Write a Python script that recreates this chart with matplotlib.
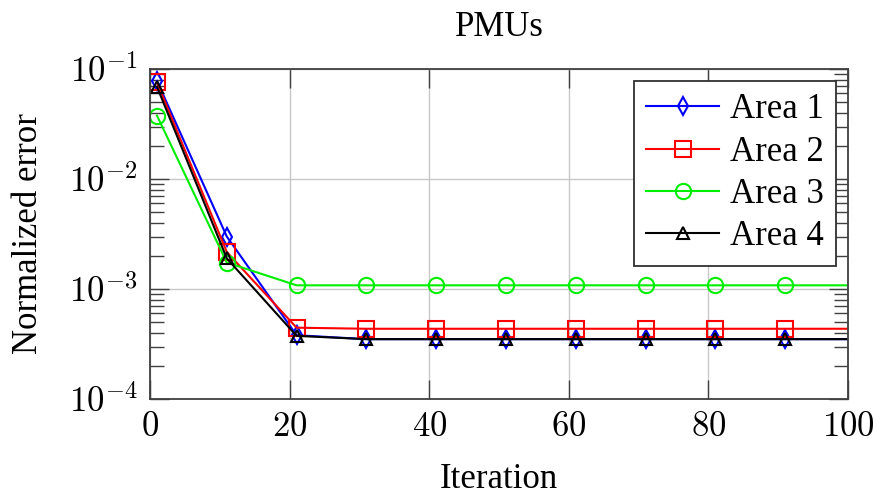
import numpy as np
import matplotlib.pyplot as plt
from matplotlib.ticker import LogLocator, NullFormatter, FuncFormatter

plt.rcParams['font.family'] = ['Liberation Serif', 'DejaVu Serif']
plt.rcParams['mathtext.fontset'] = 'cm'

# iterations where the error was recorded (last point only extends the line)
iters = [1, 11, 21, 31, 41, 51, 61, 71, 81, 91, 100]

area1 = [0.078, 0.0030, 3.8e-4, 3.5e-4, 3.5e-4, 3.5e-4, 3.5e-4, 3.5e-4, 3.5e-4, 3.5e-4, 3.5e-4]
area2 = [0.0756, 0.00217, 4.45e-4, 4.35e-4, 4.35e-4, 4.35e-4, 4.35e-4, 4.35e-4, 4.35e-4, 4.35e-4, 4.35e-4]
area3 = [0.0377, 0.00174, 0.00108, 0.00108, 0.00108, 0.00108, 0.00108, 0.00108, 0.00108, 0.00108, 0.00108]
area4 = [0.069, 0.0019, 3.75e-4, 3.5e-4, 3.5e-4, 3.5e-4, 3.5e-4, 3.5e-4, 3.5e-4, 3.5e-4, 3.5e-4]

labels = ['Area 1', 'Area 2', 'Area 3', 'Area 4']
colors = ['#0000ff', '#ff0000', '#00ee00', '#000000']
markers = ['d', 's', 'o', '^']
msizes = [9, 11, 11, 8]

fig = plt.figure(figsize=(8.78, 4.95), dpi=100)
ax = fig.add_axes([150/878, 1-399/495, 698/878, 330/495])

series = [area1, area2, area3, area4]
for vals, lab, c, m, ms in zip(series, labels, colors, markers, msizes):
    ax.plot(iters, vals, color=c, lw=1.5, marker=m, markersize=ms,
            markerfacecolor='none', markeredgecolor=c, markeredgewidth=1.5,
            markevery=list(range(len(iters)-1)), label=lab)

ax.set_yscale('log')
ax.set_xlim(0, 100)
ax.set_ylim(1e-4, 1e-1)
ax.set_xticks([0, 20, 40, 60, 80, 100])
ax.xaxis.set_major_formatter(FuncFormatter(lambda v, p: r'$%d$' % v))
ax.yaxis.set_major_locator(LogLocator(base=10, numticks=10))
ax.yaxis.set_major_formatter(FuncFormatter(lambda v, p: r'$10^{%d}$' % round(np.log10(v))))
ax.yaxis.set_minor_locator(LogLocator(base=10, subs=np.arange(2, 10), numticks=20))
ax.yaxis.set_minor_formatter(NullFormatter())

ax.grid(True, which='major', color='#c8c8c8', lw=1.0)
ax.tick_params(which='both', direction='in', top=True, right=True,
               labelsize=25, color='#404040')
ax.tick_params(which='major', length=14, width=1.0, pad=9)
ax.tick_params(which='minor', length=10, width=1.0)
for s in ax.spines.values():
    s.set_color('#404040')
    s.set_linewidth(1.3)

ax.set_title('PMUs', fontsize=25, pad=24)
ax.set_xlabel('Iteration', fontsize=25)
ax.set_ylabel('Normalized error', fontsize=25)
ax.xaxis.set_label_coords(0.5, -0.195)
ax.yaxis.set_label_coords(-0.15, 0.5)

leg = ax.legend(loc='upper right', fontsize=25, fancybox=False, framealpha=1,
                edgecolor='#303030', handlelength=2.1, borderpad=0.35,
                labelspacing=0.27, handletextpad=0.3, borderaxespad=0.35)
leg.get_frame().set_linewidth(1.3)

fig.savefig('out.png', dpi=100)
